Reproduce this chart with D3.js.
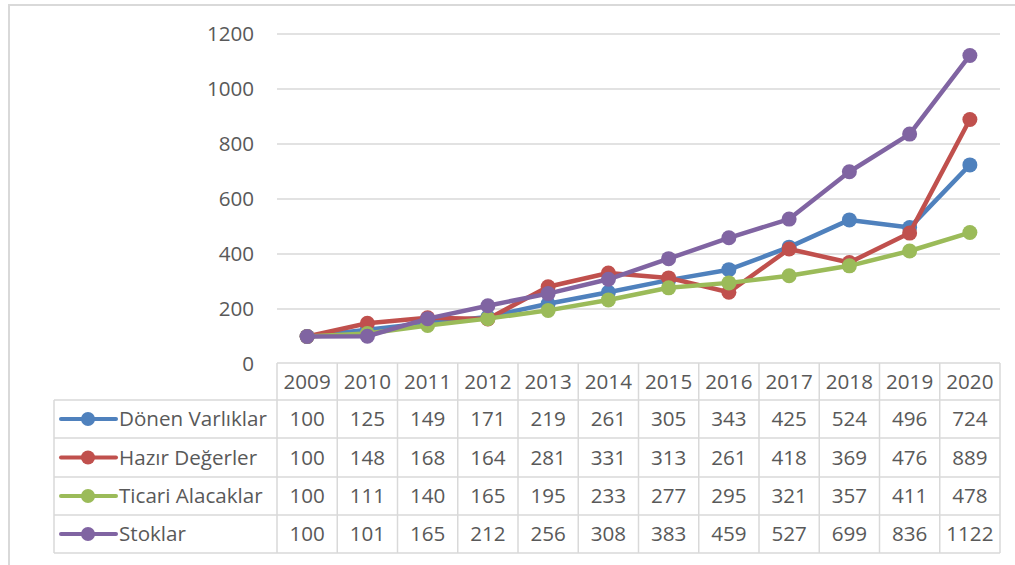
<!DOCTYPE html>
<html>
<head>
<meta charset="utf-8">
<script src="https://cdn.jsdelivr.net/npm/d3@7"></script>
<style>
  body { margin: 0; background: #fff; }
  svg text { font-family: "Open Sans", sans-serif; fill: #595959; font-size: 20.6px; }
</style>
</head>
<body>
<figure id="chart" style="margin:0"></figure>
<script>
// data
const years = ["2009","2010","2011","2012","2013","2014","2015","2016","2017","2018","2019","2020"];
const seriesNames = ["Dönen Varlıklar", "Hazır Değerler", "Ticari Alacaklar", "Stoklar"];
const donenVarliklar = [100,125,149,171,219,261,305,343,425,524,496,724];
const hazirDegerler = [100,148,168,164,281,331,313,261,418,369,476,889];
const ticariAlacaklar = [100,111,140,165,195,233,277,295,321,357,411,478];
const stoklar = [100,101,165,212,256,308,383,459,527,699,836,1122];
const yTicks = [0,200,400,600,800,1000,1200];

const colors = ["#4F81BD", "#C0504D", "#9BBB59", "#8064A2"];
const seriesValues = [donenVarliklar, hazirDegerler, ticariAlacaklar, stoklar];
const series = seriesNames.map((n, i) => ({ name: n, values: seriesValues[i], color: colors[i] }));

const width = 1015, height = 565;
const plotLeft = 277, plotRight = 1000, plotTop = 34, plotBottom = 364;
const legendLeft = 54;
const rowLines = [363, 400, 438, 477, 515, 553];

const svg = d3.select("#chart").append("svg")
  .attr("width", width).attr("height", height);

// outer frame (top + left visible)
svg.append("path")
  .attr("d", `M9,565 L9,5 L1015,5`)
  .attr("fill", "none").attr("stroke", "#d9d9d9").attr("stroke-width", 2);

const x = d3.scaleBand().domain(years).range([plotLeft, plotRight]);
const y = d3.scaleLinear().domain([0, 1200]).range([plotBottom, plotTop]);

// gridlines
svg.append("g").selectAll("line")
  .data(yTicks.filter(t => t > 0))
  .enter().append("line")
  .attr("x1", plotLeft).attr("x2", plotRight)
  .attr("y1", d => y(d)).attr("y2", d => y(d))
  .attr("stroke", "#d9d9d9").attr("stroke-width", 1.5);

// y labels
svg.append("g").selectAll("text")
  .data(yTicks)
  .enter().append("text")
  .attr("x", 254).attr("y", d => y(d))
  .attr("dy", "0.35em")
  .attr("text-anchor", "end")
  .text(d => d);

// data table grid
const grid = svg.append("g").attr("stroke", "#d9d9d9").attr("stroke-width", 1.5);
grid.append("line").attr("x1", plotLeft).attr("x2", plotRight).attr("y1", rowLines[0]).attr("y2", rowLines[0]);
rowLines.slice(1).forEach(ry => {
  grid.append("line").attr("x1", legendLeft).attr("x2", plotRight).attr("y1", ry).attr("y2", ry);
});
grid.append("line").attr("x1", legendLeft).attr("x2", legendLeft).attr("y1", rowLines[1]).attr("y2", rowLines[5]);
d3.range(years.length + 1).forEach(i => {
  const vx = i < years.length ? x(years[i]) : plotRight;
  grid.append("line").attr("x1", vx).attr("x2", vx).attr("y1", rowLines[0]).attr("y2", rowLines[5]);
});

// header (years)
svg.append("g").selectAll("text")
  .data(years)
  .enter().append("text")
  .attr("x", d => x(d) + x.bandwidth() / 2)
  .attr("y", (rowLines[0] + rowLines[1]) / 2)
  .attr("dy", "0.35em")
  .attr("text-anchor", "middle")
  .text(d => d);

// rows
series.forEach((s, i) => {
  const cy = (rowLines[i + 1] + rowLines[i + 2]) / 2;
  const row = svg.append("g");
  row.append("line")
    .attr("x1", 61).attr("x2", 116).attr("y1", cy).attr("y2", cy)
    .attr("stroke", s.color).attr("stroke-width", 4).attr("stroke-linecap", "round");
  row.append("circle").attr("cx", 88).attr("cy", cy).attr("r", 7).attr("fill", s.color);
  row.append("text")
    .attr("x", 119).attr("y", cy).attr("dy", "0.35em")
    .text(s.name);
  row.selectAll("text.v")
    .data(s.values)
    .enter().append("text")
    .attr("class", "v")
    .attr("x", (d, j) => x(years[j]) + x.bandwidth() / 2)
    .attr("y", cy).attr("dy", "0.35em")
    .attr("text-anchor", "middle")
    .text(d => d);
});

// lines and markers
const line = d3.line()
  .x((d, j) => x(years[j]) + x.bandwidth() / 2)
  .y(d => y(d));

series.forEach(s => {
  const g = svg.append("g");
  g.append("path")
    .datum(s.values)
    .attr("d", line)
    .attr("fill", "none")
    .attr("stroke", s.color)
    .attr("stroke-width", 4.5)
    .attr("stroke-linejoin", "round");
  g.selectAll("circle")
    .data(s.values)
    .enter().append("circle")
    .attr("cx", (d, j) => x(years[j]) + x.bandwidth() / 2)
    .attr("cy", d => y(d))
    .attr("r", 7.5)
    .attr("fill", s.color);
});
</script>
</body>
</html>
